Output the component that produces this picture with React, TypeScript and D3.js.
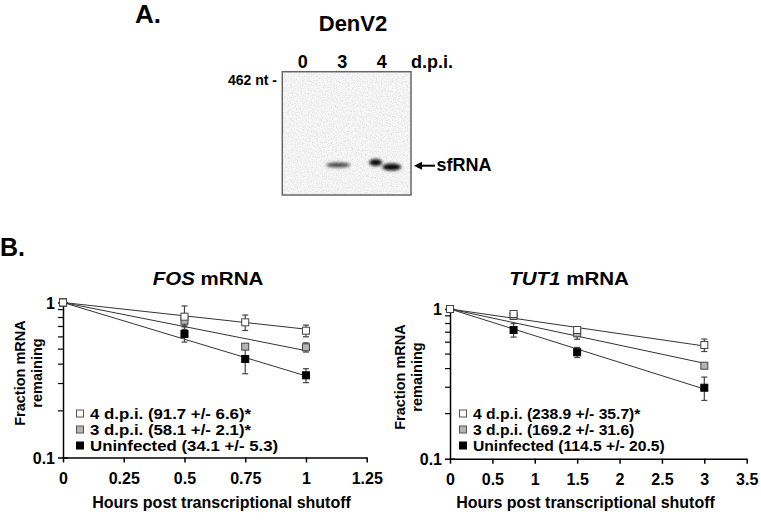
import * as React from "react";
import * as d3 from "d3";

// gel (panel A)
const laneLabels = ["0", "3", "4"];
const bandLane = ["3", "4", "4"];
const bandShift = [-4, -6, 10];
const bandY = [165, 162.5, 167];
const bandWidth = [24, 13, 19];
const bandHeight = [5, 7, 7];
const bandDarkness = [0.75, 1, 1];

// decay curves (panel B)
const seriesNames = ["4 d.p.i.", "3 d.p.i.", "Uninfected"];
const seriesFill = ["#ffffff", "#b4b4b4", "#000000"];

const fosHours = [0, 0.5, 0.75, 1];
const fos4dpi = [1, 0.81, 0.745, 0.658];
const fos4dpiErr = [0, 0.14, 0.085, 0.057];
const fos3dpi = [1, 0.763, 0.519, 0.514];
const fos3dpiErr = [0, 0.05, 0.02, 0.035];
const fosUninf = [1, 0.626, 0.432, 0.339];
const fosUninfErr = [0, 0.07, 0.085, 0.035];
const fosFitEnd = [0.673, 0.489, 0.336];
const fosHalfLife = ["(91.7 +/- 6.6)*", "(58.1 +/- 2.1)*", "(34.1 +/- 5.3)"];
const fosXTicks = [0, 0.25, 0.5, 0.75, 1, 1.25];

const tutHours = [0, 0.75, 1.5, 3];
const tut4dpi = [1, 0.926, 0.724, 0.575];
const tut4dpiErr = [0, 0.05, 0.03, 0.055];
const tut3dpi = [1, 0.898, 0.688, 0.418];
const tut3dpiErr = [0, 0.04, 0.06, 0.015];
const tutUninf = [1, 0.724, 0.514, 0.298];
const tutUninfErr = [0, 0.075, 0.04, 0.053];
const tutFitEnd = [0.566, 0.434, 0.292];
const tutHalfLife = ["(238.9 +/- 35.7)*", "(169.2 +/- 31.6)", "(114.5 +/- 20.5)"];
const tutXTicks = [0, 0.5, 1, 1.5, 2, 2.5, 3, 3.5];

const yMajor = [0.1, 1];
const yMinor = [0.2, 0.3, 0.4, 0.5, 0.6, 0.7, 0.8, 0.9];

const FONT = "'Liberation Sans', Arial, Helvetica, sans-serif";

function drawPanel(svg, cfg) {
  const x = d3.scaleLinear().domain(cfg.xDomain).range(cfg.xRange);
  const y = d3.scaleLog().domain([0.1, 1]).range(cfg.yRange);
  const g = svg.append("g").attr("font-family", FONT).attr("font-weight", "bold");

  // axes
  const ax = g.append("g").attr("transform", "translate(0," + cfg.yRange[0] + ")")
    .call(d3.axisBottom(x).tickValues(cfg.xTicks).tickSize(5).tickSizeOuter(0).tickFormat(d3.format("")));
  ax.select(".domain").attr("stroke", "#000").attr("stroke-width", 1.5);
  ax.selectAll(".tick line").attr("stroke", "#000").attr("stroke-width", 1.5);
  ax.selectAll(".tick text").attr("font-size", 16).attr("font-family", FONT).attr("fill", "#000").attr("dy", 0).attr("y", 26);

  const ay = g.append("g").attr("transform", "translate(" + cfg.xRange[0] + ",0)")
    .call(d3.axisLeft(y).tickValues(yMajor).tickSize(5).tickSizeOuter(0).tickFormat(d3.format("")));
  ay.select(".domain").attr("stroke", "#000").attr("stroke-width", 1.5);
  ay.selectAll(".tick line").attr("stroke", "#000").attr("stroke-width", 1.5).attr("x2", -5).attr("x1", 5);
  ay.selectAll(".tick text").attr("font-size", 16).attr("font-family", FONT).attr("fill", "#000").attr("x", -8).attr("dy", "0.36em");
  ay.selectAll(".minor").data(yMinor).enter().append("line")
    .attr("x1", -5).attr("x2", 0).attr("y1", (d) => y(d)).attr("y2", (d) => y(d))
    .attr("stroke", "#000").attr("stroke-width", 1.2);

  // titles
  const t = g.append("text").attr("transform", "translate(" + cfg.titleX + ",285) scale(1.08,1)")
    .attr("text-anchor", "middle").attr("font-size", 19);
  t.append("tspan").attr("font-style", "italic").text(cfg.gene);
  t.append("tspan").text(" mRNA");

  g.append("text").attr("x", cfg.xTitleX).attr("y", 508).attr("text-anchor", "middle").attr("font-size", 16)
    .text("Hours post transcriptional shutoff");

  ["Fraction mRNA", "remaining"].forEach((s, i) => {
    g.append("text").attr("transform", "translate(" + cfg.yTitleX[i] + "," + cfg.yTitleY + ") rotate(-90)")
      .attr("text-anchor", "middle").attr("font-size", 14.5).text(s);
  });

  // fitted lines
  const tMax = d3.max(cfg.hours);
  cfg.fitEnd.forEach((v) => {
    g.append("path")
      .datum([[0, 1], [tMax, v]])
      .attr("fill", "none").attr("stroke", "#333").attr("stroke-width", 1)
      .attr("d", d3.line().x((d) => x(d[0])).y((d) => y(d[1])));
  });

  // error bars, then markers
  cfg.series.forEach((s) => {
    s.values.forEach((v, i) => {
      const e = s.errors[i];
      if (!e) return;
      const cx = x(cfg.hours[i]);
      const top = y(v + e), bot = y(v - e);
      g.append("line").attr("x1", cx).attr("x2", cx).attr("y1", top).attr("y2", bot).attr("stroke", "#444").attr("stroke-width", 1.2);
      [top, bot].forEach((yy) => g.append("line").attr("x1", cx - 3).attr("x2", cx + 3).attr("y1", yy).attr("y2", yy).attr("stroke", "#444").attr("stroke-width", 1.2));
    });
  });
  [2, 1, 0].forEach((si) => {
    const s = cfg.series[si];
    g.selectAll(null).data(s.values).enter().append("rect")
      .attr("x", (d, i) => x(cfg.hours[i]) - 3.5).attr("y", (d) => y(d) - 3.5)
      .attr("width", 7).attr("height", 7)
      .attr("fill", seriesFill[si]).attr("stroke", si === 2 ? "#000" : "#444").attr("stroke-width", 1);
  });

  // legend
  const rows = [419, 435, 451];
  seriesNames.forEach((name, i) => {
    g.append("rect").attr("x", cfg.legendX - 3.5).attr("y", rows[i] - 9).attr("width", 7).attr("height", 7)
      .attr("fill", seriesFill[i]).attr("stroke", i === 2 ? "#000" : "#555").attr("stroke-width", 1);
    g.append("text").attr("transform", "translate(" + (cfg.legendX + 10) + "," + rows[i] + ") scale(" + cfg.legendStretch + ",1)")
      .attr("font-size", 14.5)
      .text(name + " " + cfg.halfLife[i]);
  });
}

function drawGel(svg) {
  const g = svg.append("g").attr("font-family", FONT).attr("font-weight", "bold");
  const lane = d3.scalePoint().domain(laneLabels).range([302.7, 381.7]);
  const box = { x0: 282.3, x1: 411, y0: 71.7, y1: 195 };

  const defs = svg.append("defs");
  const nf = defs.append("filter").attr("id", "gelNoise").attr("x", 0).attr("y", 0).attr("width", 1).attr("height", 1);
  nf.append("feTurbulence").attr("type", "fractalNoise").attr("baseFrequency", 0.8).attr("numOctaves", 2).attr("seed", 4).attr("result", "n");
  nf.append("feColorMatrix").attr("in", "n").attr("type", "matrix")
    .attr("values", "0 0 0 0 0  0 0 0 0 0  0 0 0 0 0  1.2 0 0 0 -0.5").attr("result", "m");
  nf.append("feComposite").attr("in", "m").attr("in2", "SourceAlpha").attr("operator", "in");
  const bf = defs.append("filter").attr("id", "bandBlur").attr("x", "-50%").attr("y", "-100%").attr("width", "200%").attr("height", "300%");
  bf.append("feGaussianBlur").attr("stdDeviation", 1.4);

  g.append("rect").attr("x", box.x0).attr("y", box.y0).attr("width", box.x1 - box.x0).attr("height", box.y1 - box.y0)
    .attr("fill", "#f7f7f7");
  g.append("rect").attr("x", box.x0).attr("y", box.y0).attr("width", box.x1 - box.x0).attr("height", box.y1 - box.y0)
    .attr("fill", "#fff").attr("filter", "url(#gelNoise)").attr("opacity", 0.16);

  bandLane.forEach((l, i) => {
    g.append("ellipse")
      .attr("cx", lane(l) + bandShift[i]).attr("cy", bandY[i])
      .attr("rx", bandWidth[i] / 2).attr("ry", bandHeight[i] / 2)
      .attr("fill", "#111").attr("opacity", bandDarkness[i]).attr("filter", "url(#bandBlur)");
  });

  g.append("rect").attr("x", box.x0).attr("y", box.y0).attr("width", box.x1 - box.x0).attr("height", box.y1 - box.y0)
    .attr("fill", "none").attr("stroke", "#666").attr("stroke-width", 1.5);

  laneLabels.forEach((l) => {
    g.append("text").attr("x", lane(l)).attr("y", 68).attr("text-anchor", "middle").attr("font-size", 18).text(l);
  });
  g.append("text").attr("x", 411).attr("y", 68).attr("font-size", 18).text("d.p.i.");
  g.append("text").attr("x", 353).attr("y", 31).attr("text-anchor", "middle").attr("font-size", 22).text("DenV2");
  g.append("text").attr("x", 277).attr("y", 85).attr("text-anchor", "end").attr("font-size", 14).text("462 nt -");

  // arrow to sfRNA band
  const ay = 165.7;
  g.append("line").attr("x1", 420).attr("x2", 435).attr("y1", ay).attr("y2", ay).attr("stroke", "#000").attr("stroke-width", 2);
  g.append("path").attr("d", d3.line()([[414, ay], [422, ay - 4], [422, ay + 4]]) + "Z").attr("fill", "#000");
  g.append("text").attr("x", 436.5).attr("y", 171).attr("font-size", 18).text("sfRNA");
}

export default function App() {
  const ref = React.useRef(null);

  React.useEffect(() => {
    const svg = d3.select(ref.current);
    svg.selectAll("*").remove();

    svg.append("text").attr("x", 135).attr("y", 23).attr("font-family", FONT).attr("font-weight", "bold").attr("font-size", 26).text("A.");
    svg.append("text").attr("x", 0).attr("y", 256).attr("font-family", FONT).attr("font-weight", "bold").attr("font-size", 25).text("B.");

    drawGel(svg);

    drawPanel(svg, {
      gene: "FOS",
      hours: fosHours,
      xDomain: [0, 1.25],
      xRange: [63, 366.7],
      yRange: [457.5, 302.5],
      xTicks: fosXTicks,
      fitEnd: fosFitEnd,
      halfLife: fosHalfLife,
      series: [
        { values: fos4dpi, errors: fos4dpiErr },
        { values: fos3dpi, errors: fos3dpiErr },
        { values: fosUninf, errors: fosUninfErr },
      ],
      titleX: 208,
      xTitleX: 221.5,
      yTitleX: [25, 42],
      yTitleY: 373,
      legendX: 80,
      legendStretch: 1.16,
    });

    drawPanel(svg, {
      gene: "TUT1",
      hours: tutHours,
      xDomain: [0, 3.5],
      xRange: [450, 746.7],
      yRange: [458.7, 309],
      xTicks: tutXTicks,
      fitEnd: tutFitEnd,
      halfLife: tutHalfLife,
      series: [
        { values: tut4dpi, errors: tut4dpiErr },
        { values: tut3dpi, errors: tut3dpiErr },
        { values: tutUninf, errors: tutUninfErr },
      ],
      titleX: 569,
      xTitleX: 585.5,
      yTitleX: [405, 422],
      yTitleY: 377,
      legendX: 463,
      legendStretch: 1.08,
    });
  }, []);

  return (
    <div style={{ position: "absolute", left: 0, top: 0 }}>
      <svg ref={ref} width={761} height={522} style={{ display: "block", background: "#fff" }} />
    </div>
  );
}
